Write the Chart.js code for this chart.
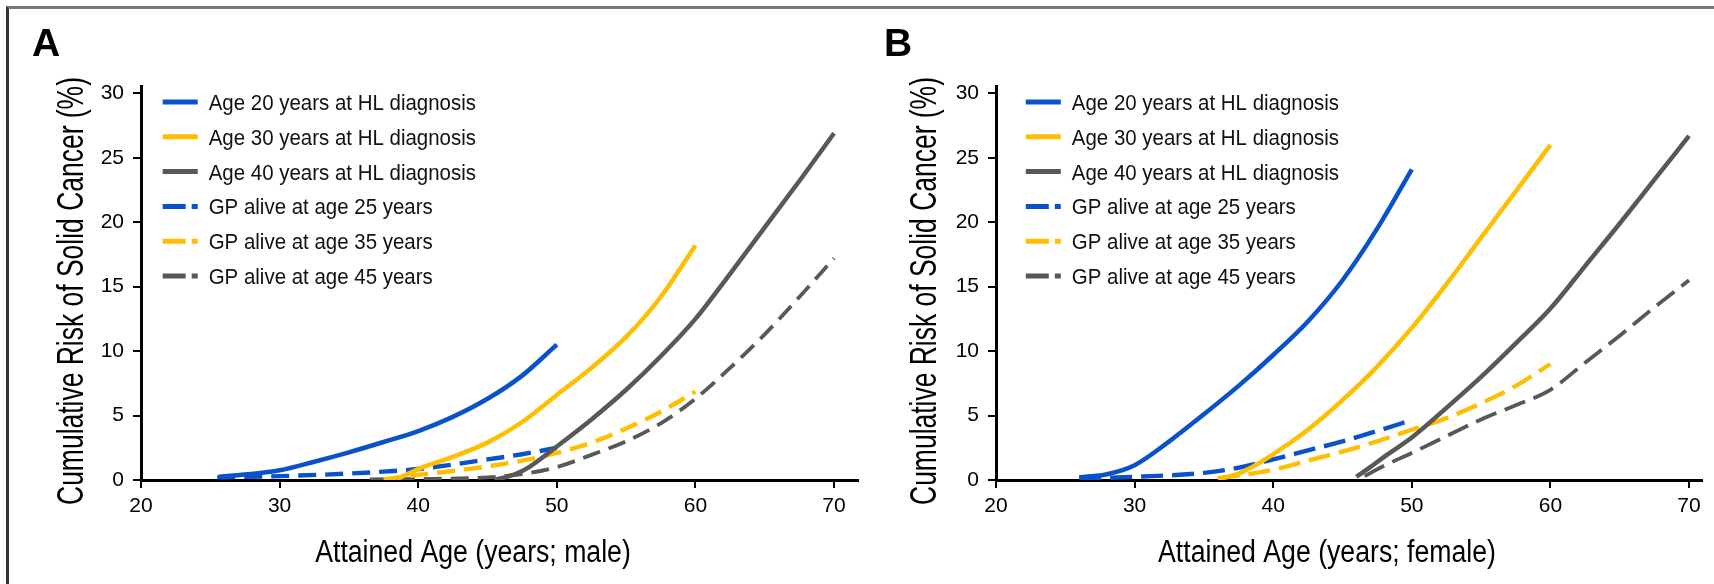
<!DOCTYPE html>
<html>
<head>
<meta charset="utf-8">
<script src="https://cdn.jsdelivr.net/npm/chart.js@4.4.1/dist/chart.umd.min.js"></script>
<style>
  html, body { margin: 0; padding: 0; background: #fff; }
  #wrap { position: relative; width: 1714px; height: 584px; overflow: hidden; background: #fff; }
  #frame { position: absolute; left: 6px; top: 6px; width: 1720px; height: 600px;
           border-top: 3px solid #777; border-left: 3px solid #333; }
  #cA { position: absolute; left: 0; top: 0; }
  #cB { position: absolute; left: 855px; top: 0; }
</style>
</head>
<body>
<div id="wrap">
  <div id="frame"></div>
  <canvas id="cA" width="862" height="584"></canvas>
  <canvas id="cB" width="859" height="584"></canvas>
</div>
<script>
// ---------------- DATA ----------------
const seriesLabels = [
  'Age 20 years at HL diagnosis',
  'Age 30 years at HL diagnosis',
  'Age 40 years at HL diagnosis',
  'GP alive at age 25 years',
  'GP alive at age 35 years',
  'GP alive at age 45 years'
];
const xTickValues = [20, 30, 40, 50, 60, 70];
const yTickValues = [0, 5, 10, 15, 20, 25, 30];
const panelTitles = ['A', 'B'];
const xAxisTitles = ['Attained Age (years; male)', 'Attained Age (years; female)'];
const yAxisTitle = 'Cumulative Risk of Solid Cancer (%)';

// Panel A (male)
const maleHL20Age  = [25.6, 27.5, 30, 32.5, 35, 37.5, 40, 42.5, 45, 47.5, 50];
const maleHL20Risk = [0.25, 0.42, 0.75, 1.42, 2.15, 2.95, 3.8, 4.9, 6.3, 8.1, 10.5];
const maleHL30Age  = [38.5, 39.2, 40, 42.5, 45, 47.5, 50, 52.5, 55, 57.5, 60];
const maleHL30Risk = [0.1, 0.45, 0.85, 1.8, 2.9, 4.5, 6.6, 8.7, 11.1, 14.2, 18.2];
const maleHL40Age  = [45.5, 47, 48, 50, 52.5, 55, 57.5, 60, 62.5, 65, 67.5, 70];
const maleHL40Risk = [0.0, 0.45, 1.0, 2.6, 4.7, 7.0, 9.6, 12.5, 16.0, 19.6, 23.2, 26.9];
const maleGP25Age  = [25.5, 30, 35, 37.5, 40, 42.5, 45, 47.5, 50];
const maleGP25Risk = [0.2, 0.3, 0.5, 0.65, 0.85, 1.2, 1.6, 2.0, 2.5];
const maleGP35Age  = [37.5, 40, 42.5, 45, 47.5, 50, 52.5, 55, 57.5, 60];
const maleGP35Risk = [0.05, 0.4, 0.7, 1.05, 1.5, 2.1, 2.9, 4.0, 5.3, 6.85];
const maleGP45Age  = [36.5, 40, 45, 47.5, 50, 52.5, 55, 57.5, 60, 62.5, 65, 67.5, 70];
const maleGP45Risk = [0.05, 0.08, 0.2, 0.45, 1.0, 1.95, 3.0, 4.4, 6.3, 8.7, 11.3, 14.2, 17.2];

// Panel B (female)
const femaleHL20Age  = [26, 28, 30, 32.5, 35, 37.5, 40, 42.5, 45, 47.5, 50];
const femaleHL20Risk = [0.2, 0.45, 1.15, 3.0, 5.1, 7.3, 9.7, 12.3, 15.5, 19.5, 24.1];
const femaleHL30Age  = [36, 37.5, 40, 42.5, 45, 47.5, 50, 52.5, 55, 57.5, 60];
const femaleHL30Risk = [0.1, 0.5, 2.0, 3.9, 6.2, 8.8, 11.8, 15.2, 18.8, 22.4, 26.0];
const femaleHL40Age  = [46, 47, 48, 50, 52.5, 55, 57.5, 60, 62.5, 65, 67.5, 70];
const femaleHL40Risk = [0.25, 1.0, 1.8, 3.3, 5.6, 8.0, 10.6, 13.3, 16.6, 19.9, 23.3, 26.7];
const femaleGP25Age  = [26, 30, 35, 37.5, 40, 42.5, 45, 47.5, 50];
const femaleGP25Risk = [0.1, 0.25, 0.55, 0.95, 1.6, 2.3, 3.0, 3.8, 4.65];
const femaleGP35Age  = [36, 40, 42.5, 45, 47.5, 50, 52.5, 55, 57.5, 60];
const femaleGP35Risk = [0.1, 0.8, 1.5, 2.2, 3.0, 3.9, 4.8, 5.95, 7.3, 9.0];
const femaleGP45Age  = [46.6, 48, 50, 52.5, 55, 57.5, 60, 62.5, 65, 67.5, 70];
const femaleGP45Risk = [0.3, 1.1, 2.1, 3.4, 4.7, 5.8, 7.0, 9.1, 11.2, 13.4, 15.5];

// ---------------- STYLE ----------------
const BLUE = '#0a52cc', YELLOW = '#ffbf00', GRAY = '#58585a';
const seriesColors = [BLUE, YELLOW, GRAY, BLUE, YELLOW, GRAY];
const seriesDashed = [false, false, false, true, true, true];
const SANS = '"Liberation Sans", Arial, sans-serif';

function pts(xs, ys) { return xs.map((x, i) => ({ x: x, y: ys[i] })); }

function makeDatasets(list, dashPattern) {
  return list.map((pair, i) => ({
    label: seriesLabels[i],
    data: pts(pair[0], pair[1]),
    borderColor: seriesColors[i],
    backgroundColor: seriesColors[i],
    borderWidth: seriesDashed[i] ? (i === 5 ? 3.8 : 4.4) : 4.5,
    borderDash: seriesDashed[i] ? dashPattern : [],
    borderCapStyle: 'butt',
    pointRadius: 0,
    fill: false,
    cubicInterpolationMode: 'monotone'
  }));
}

function squeezedText(ctx, text, x, y, sx, align) {
  ctx.save();
  ctx.translate(x, y);
  ctx.scale(sx, 1);
  ctx.textAlign = align;
  ctx.fillText(text, 0, 0);
  ctx.restore();
}

const decor = {
  id: 'decor',
  afterDraw(chart, args, o) {
    const ctx = chart.ctx, ca = chart.chartArea;
    ctx.save();
    ctx.fillStyle = '#000';
    // panel letter
    ctx.font = 'bold 39px ' + SANS;
    ctx.textAlign = 'left'; ctx.textBaseline = 'alphabetic';
    ctx.fillText(o.panel, o.panelX, 56);
    // x title
    ctx.font = '31px ' + SANS;
    squeezedText(ctx, o.xTitle, o.xTitleX, 562, 0.86, 'center');
    // y title
    ctx.save();
    ctx.translate(o.yTitleX, 291);
    ctx.rotate(-Math.PI / 2);
    ctx.scale(0.735, 1);
    ctx.font = '36px ' + SANS;
    ctx.textAlign = 'center'; ctx.textBaseline = 'alphabetic';
    ctx.fillText(o.yTitle, 0, 0);
    ctx.restore();
    // legend
    chart.data.datasets.forEach((ds, i) => {
      const y = ca.top + 16 + i * 34.8;
      const x0 = ca.left + o.legX;
      ctx.beginPath();
      ctx.strokeStyle = ds.borderColor;
      ctx.lineWidth = 5;
      ctx.lineCap = 'butt';
      ctx.setLineDash(seriesDashed[i] ? [23, 6, 6, 60] : []);
      ctx.moveTo(x0, y); ctx.lineTo(x0 + 35, y);
      ctx.stroke();
      ctx.setLineDash([]);
      ctx.fillStyle = '#111';
      ctx.font = '22px ' + SANS;
      ctx.textBaseline = 'alphabetic';
      squeezedText(ctx, ds.label, x0 + 46, y + 8, 0.93, 'left');
    });
    ctx.restore();
  }
};

function makeChart(canvasId, datasets, xMax, padRight, opts) {
  return new Chart(document.getElementById(canvasId), {
    type: 'line',
    data: { datasets: datasets },
    options: {
      responsive: false,
      animation: false,
      devicePixelRatio: 1,
      layout: { padding: { left: 0, top: 86, right: padRight, bottom: 0 } },
      plugins: { legend: { display: false }, tooltip: { enabled: false }, decor: opts },
      scales: {
        x: {
          type: 'linear', min: 20, max: xMax,
          afterFit: s => { s.height = 104; },
          afterBuildTicks: s => { s.ticks = xTickValues.map(v => ({ value: v })); },
          border: { display: true, color: '#000', width: 3 },
          grid: { drawOnChartArea: false, drawTicks: true, tickLength: 8, color: '#000', lineWidth: 2 },
          ticks: { color: '#000', padding: 6, maxRotation: 0, autoSkip: false, includeBounds: false,
                   font: { family: SANS, size: 21 } }
        },
        y: {
          type: 'linear', min: 0, max: 30.57,
          afterFit: s => { s.width = 141; },
          afterBuildTicks: s => { s.ticks = yTickValues.map(v => ({ value: v })); },
          border: { display: true, color: '#000', width: 3 },
          grid: { drawOnChartArea: false, drawTicks: true, tickLength: 8, color: '#000', lineWidth: 2 },
          ticks: { color: '#000', padding: 9, includeBounds: false,
                   font: { family: SANS, size: 21 } }
        }
      }
    },
    plugins: [decor]
  });
}

const dsA = makeDatasets([
  [maleHL20Age, maleHL20Risk], [maleHL30Age, maleHL30Risk], [maleHL40Age, maleHL40Risk],
  [maleGP25Age, maleGP25Risk], [maleGP35Age, maleGP35Risk], [maleGP45Age, maleGP45Risk]
], [18, 9]);
const dsB = makeDatasets([
  [femaleHL20Age, femaleHL20Risk], [femaleHL30Age, femaleHL30Risk], [femaleHL40Age, femaleHL40Risk],
  [femaleGP25Age, femaleGP25Risk], [femaleGP35Age, femaleGP35Risk], [femaleGP45Age, femaleGP45Risk]
], [22, 9]);

makeChart('cA', dsA, 71.73, 4, { panel: panelTitles[0], panelX: 32, xTitle: xAxisTitles[0], xTitleX: 473, yTitle: yAxisTitle, yTitleX: 83, legX: 21.7 });
makeChart('cB', dsB, 70.9, 12.5, { panel: panelTitles[1], panelX: 29, xTitle: xAxisTitles[1], xTitleX: 472, yTitle: yAxisTitle, yTitleX: 81, legX: 29.8 });
</script>
</body>
</html>
